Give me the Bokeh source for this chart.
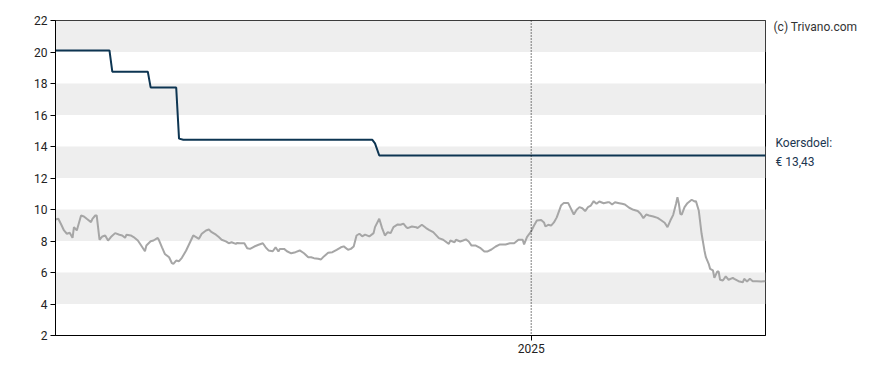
from datetime import datetime
import pandas as pd
from bokeh.plotting import figure
from bokeh.layouts import row
from bokeh.models import Range1d, FixedTicker, BoxAnnotation, Span
from bokeh.core.properties import value
from bokeh.embed import file_html
from bokeh.resources import INLINE

# ---------------- data ----------------
price_dates = [
    "2024-02-01", "2024-02-03", "2024-02-05", "2024-02-07", "2024-02-09", "2024-02-11", "2024-02-13",
    "2024-02-14", "2024-02-16", "2024-02-19", "2024-02-21", "2024-02-23", "2024-02-26", "2024-02-27",
    "2024-02-29", "2024-03-01", "2024-03-03", "2024-03-05", "2024-03-07", "2024-03-09", "2024-03-11",
    "2024-03-14", "2024-03-17", "2024-03-19", "2024-03-21", "2024-03-22", "2024-03-25", "2024-03-27",
    "2024-03-30", "2024-04-01", "2024-04-04", "2024-04-05", "2024-04-08", "2024-04-10", "2024-04-13",
    "2024-04-14", "2024-04-16", "2024-04-18", "2024-04-21", "2024-04-23", "2024-04-24", "2024-04-26",
    "2024-04-28", "2024-04-30", "2024-05-03", "2024-05-05", "2024-05-08", "2024-05-10", "2024-05-12",
    "2024-05-14", "2024-05-17", "2024-05-19", "2024-05-21", "2024-05-24", "2024-05-26", "2024-05-28",
    "2024-05-31", "2024-06-02", "2024-06-04", "2024-06-07", "2024-06-08", "2024-06-10", "2024-06-13",
    "2024-06-15", "2024-06-17", "2024-06-20", "2024-06-23", "2024-06-26", "2024-06-28", "2024-06-30",
    "2024-07-03", "2024-07-05", "2024-07-07", "2024-07-08", "2024-07-11", "2024-07-13", "2024-07-16",
    "2024-07-19", "2024-07-22", "2024-07-25", "2024-07-28", "2024-07-30", "2024-08-01", "2024-08-04",
    "2024-08-06", "2024-08-08", "2024-08-11", "2024-08-14", "2024-08-17", "2024-08-20", "2024-08-22",
    "2024-08-25", "2024-08-27", "2024-08-29", "2024-08-31", "2024-09-02", "2024-09-04", "2024-09-06",
    "2024-09-09", "2024-09-12", "2024-09-13", "2024-09-16", "2024-09-18", "2024-09-20", "2024-09-22",
    "2024-09-24", "2024-09-26", "2024-09-29", "2024-10-01", "2024-10-03", "2024-10-05", "2024-10-06",
    "2024-10-09", "2024-10-12", "2024-10-13", "2024-10-16", "2024-10-19", "2024-10-21", "2024-10-24",
    "2024-10-28", "2024-10-31", "2024-11-04", "2024-11-05", "2024-11-08", "2024-11-09", "2024-11-12",
    "2024-11-14", "2024-11-16", "2024-11-18", "2024-11-20", "2024-11-23", "2024-11-26", "2024-11-29",
    "2024-12-01", "2024-12-04", "2024-12-07", "2024-12-10", "2024-12-14", "2024-12-17", "2024-12-20",
    "2024-12-23", "2024-12-26", "2024-12-27", "2024-12-29", "2025-01-01", "2025-01-03", "2025-01-05",
    "2025-01-08", "2025-01-10", "2025-01-11", "2025-01-13", "2025-01-15", "2025-01-17", "2025-01-19",
    "2025-01-22", "2025-01-24", "2025-01-27", "2025-01-31", "2025-02-02", "2025-02-04", "2025-02-06",
    "2025-02-08", "2025-02-10", "2025-02-12", "2025-02-14", "2025-02-16", "2025-02-18", "2025-02-21",
    "2025-02-24", "2025-02-25", "2025-02-27", "2025-03-01", "2025-03-04", "2025-03-06", "2025-03-08",
    "2025-03-11", "2025-03-14", "2025-03-17", "2025-03-19", "2025-03-21", "2025-03-23", "2025-03-25",
    "2025-03-28", "2025-03-31", "2025-04-02", "2025-04-05", "2025-04-07", "2025-04-09", "2025-04-11",
    "2025-04-13", "2025-04-14", "2025-04-15", "2025-04-16", "2025-04-17", "2025-04-19", "2025-04-21",
    "2025-04-24", "2025-04-26", "2025-04-27", "2025-04-29", "2025-05-01", "2025-05-03", "2025-05-04",
    "2025-05-06", "2025-05-07", "2025-05-09", "2025-05-10", "2025-05-12", "2025-05-13", "2025-05-14",
    "2025-05-16", "2025-05-18", "2025-05-20", "2025-05-23", "2025-05-24", "2025-05-27", "2025-05-30",
    "2025-05-31", "2025-06-02", "2025-06-04", "2025-06-06", "2025-06-09", "2025-06-12", "2025-06-14",
    "2025-06-15",
]
price_values = [
    9.36, 9.41, 9.05, 8.67, 8.46, 8.52, 8.20,
    8.88, 8.67, 9.62, 9.56, 9.41, 9.20, 9.41,
    9.62, 9.62, 8.08, 8.29, 8.35, 8.03, 8.25,
    8.50, 8.40, 8.35, 8.20, 8.40, 8.35, 8.25,
    8.03, 7.76, 7.35, 7.71, 7.98, 8.03, 8.20,
    8.03, 7.60, 7.18, 6.97, 6.59, 6.55, 6.76,
    6.72, 6.93, 7.40, 7.78, 8.35, 8.25, 8.14,
    8.46, 8.67, 8.73, 8.56, 8.40, 8.25, 8.08,
    7.98, 7.86, 7.92, 7.82, 7.88, 7.86, 7.86,
    7.54, 7.50, 7.65, 7.76, 7.86, 7.60, 7.40,
    7.35, 7.60, 7.33, 7.50, 7.50, 7.35, 7.22,
    7.29, 7.40, 7.22, 6.97, 6.97, 6.91, 6.87,
    6.83, 7.02, 7.25, 7.29, 7.44, 7.60, 7.66,
    7.44, 7.50, 7.65, 8.35, 8.46, 8.30, 8.41,
    8.29, 8.50, 8.88, 9.41, 8.82, 8.35, 8.56,
    8.50, 8.88, 9.05, 9.03, 9.10, 8.88, 8.82,
    8.92, 8.88, 8.82, 9.03, 8.82, 8.71, 8.56,
    8.18, 8.08, 7.82, 8.03, 7.92, 8.08, 7.97,
    8.03, 8.10, 7.97, 7.71, 7.71, 7.57, 7.33,
    7.33, 7.46, 7.65, 7.78, 7.78, 7.86, 7.86,
    8.08, 8.08, 7.78, 8.25, 8.62, 8.98, 9.30,
    9.33, 9.18, 8.92, 9.03, 8.98, 9.18, 9.50,
    10.25, 10.42, 10.42, 9.68, 9.98, 10.15, 10.08,
    9.90, 10.15, 10.25, 10.53, 10.36, 10.51, 10.40,
    10.46, 10.46, 10.32, 10.46, 10.40, 10.36, 10.32,
    10.11, 9.98, 9.90, 9.73, 9.45, 9.68, 9.62,
    9.56, 9.47, 9.35, 9.16, 8.88, 9.30, 9.66,
    10.36, 10.78, 10.36, 9.73, 9.68, 10.15, 10.40,
    10.62, 10.51, 10.53, 9.94, 8.46, 7.40, 6.97,
    6.55, 6.23, 6.13, 5.66, 6.06, 6.06, 5.54,
    5.49, 5.75, 5.54, 5.66, 5.60, 5.45, 5.38,
    5.60, 5.43, 5.60, 5.45, 5.45, 5.43, 5.45,
    5.45,
]

target_dates = [
    "2024-02-01", "2024-03-10", "2024-03-12", "2024-04-06", "2024-04-08",
    "2024-04-26", "2024-04-28", "2024-05-01", "2024-09-11", "2024-09-13",
    "2024-09-16", "2025-06-15",
]
target_values = [
    20.10, 20.10, 18.75, 18.75, 17.75,
    17.75, 14.50, 14.43, 14.43, 14.20,
    13.43, 13.43,
]

y_ticks = [2, 4, 6, 8, 10, 12, 14, 16, 18, 20, 22]
x_tick_date = "2025-01-01"
x_tick_label = "2025"
target_label_1 = "Koersdoel:"
target_label_2 = "€ 13,43"
copyright_text = "(c) Trivano.com"

# ---------------- layout constants ----------------
FONT = "Roboto"
H = 370
TOP, BOTTOM = 20, 35
LEFT = 55
FRAME_W = 710
SIDE_W = 888 - LEFT - FRAME_W - 1   # width of the right-hand text panel

px = pd.to_datetime(price_dates)
tx = pd.to_datetime(target_dates)
x_start = datetime(2024, 2, 1)
x_end = datetime(2025, 6, 15)

# ---------------- main plot ----------------
p = figure(
    width=LEFT + FRAME_W + 1, height=H,
    x_axis_type="datetime",
    x_range=Range1d(x_start, x_end),
    y_range=Range1d(y_ticks[0], y_ticks[-1]),
    output_backend="svg", toolbar_location=None,
    min_border_left=LEFT, min_border_right=1,
    min_border_top=TOP, min_border_bottom=BOTTOM,
)
p.background_fill_color = "white"
p.border_fill_color = "white"
p.outline_line_color = "black"
p.outline_line_width = 1
p.grid.visible = False

for lo, hi in zip(y_ticks[:-1], y_ticks[1:]):
    if (hi // 2) % 2 == 1:
        p.add_layout(BoxAnnotation(bottom=lo, top=hi, fill_color="#eeeeee",
                                   fill_alpha=1.0, line_color=None, level="underlay"))

tick_ms = pd.Timestamp(x_tick_date).value // 10**6
p.add_layout(Span(location=tick_ms, dimension="height", line_color="black",
                  line_width=1, line_dash="1 2"))

p.line(px, price_values, line_color="#a6a6a6", line_width=2)
p.line(tx, target_values, line_color="#0d3552", line_width=2)

for ax in (p.yaxis, p.xaxis):
    ax.axis_line_color = "black"
    ax.major_tick_line_color = "black"
    ax.major_tick_out = 5
    ax.major_tick_in = 0
    ax.minor_tick_line_color = None
    ax.major_label_standoff = 3
    ax.major_label_text_font = FONT
    ax.major_label_text_font_size = "12px"
    ax.major_label_text_color = "#222222"

p.yaxis.ticker = FixedTicker(ticks=y_ticks)
p.xaxis.ticker = FixedTicker(ticks=[tick_ms])
p.xaxis.major_label_overrides = {tick_ms: x_tick_label}

# ---------------- right-hand text panel (same vertical scale) ----------------
frame_h = H - TOP - BOTTOM
unit_px = frame_h / (y_ticks[-1] - y_ticks[0])
side = figure(
    width=SIDE_W, height=H,
    x_range=Range1d(0, SIDE_W),
    y_range=Range1d(y_ticks[0] - BOTTOM / unit_px, y_ticks[-1] + TOP / unit_px),
    output_backend="svg", toolbar_location=None,
    min_border=0,
)
side.axis.visible = False
side.grid.visible = False
side.outline_line_color = None
side.background_fill_color = "white"
side.border_fill_color = "white"

side.text(x=[9, 9], y=[target_values[-1], target_values[-1]],
          text=[target_label_1, target_label_2], y_offset=[-9, 10],
          text_baseline="middle", text_align="left",
          text_font=value(FONT), text_font_size="12px", text_color="#1b3650")
side.text(x=[7], y=[y_ticks[-1] + 12 / unit_px], text=[copyright_text],
          text_baseline="middle", text_align="left",
          text_font=value(FONT), text_font_size="12px", text_color="#333333")

layout = row(p, side, spacing=0)
open("out.html", "w").write(file_html(layout, INLINE))
